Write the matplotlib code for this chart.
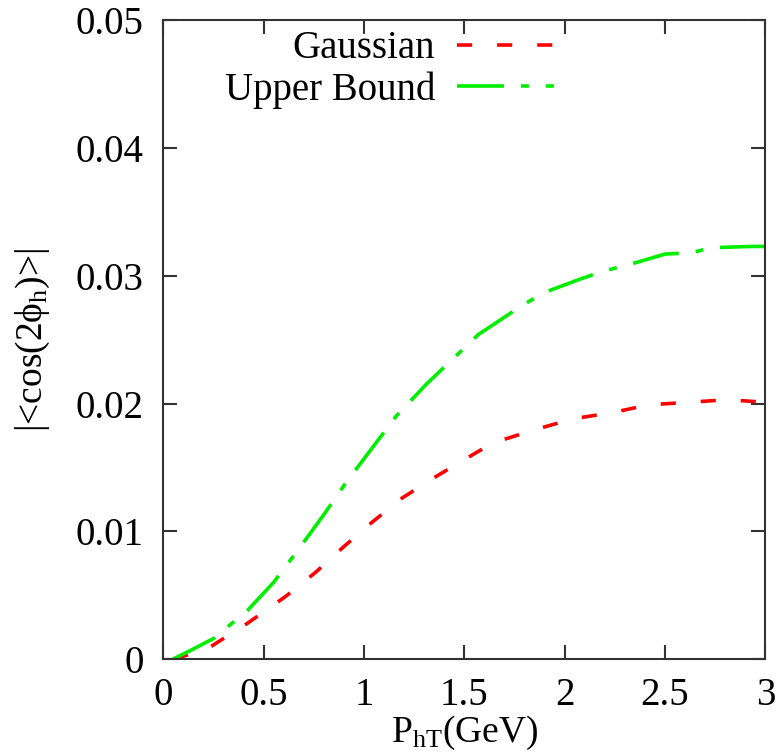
import matplotlib
matplotlib.use("Agg")
import matplotlib.pyplot as plt

plt.rcParams['font.family'] = ['Liberation Serif', 'DejaVu Serif']
plt.rcParams['mathtext.fontset'] = 'custom'
plt.rcParams['mathtext.rm'] = 'Liberation Serif'
plt.rcParams['mathtext.it'] = 'Liberation Serif:italic'

# curves
x_upper = [0.05, 0.14, 0.25, 0.42, 0.55, 0.67, 0.80, 0.91, 1.04, 1.16, 1.31, 1.45,
           1.57, 1.79, 1.90, 2.07, 2.18, 2.37, 2.50, 2.63, 2.73, 2.93, 3.0]
y_upper = [0.0, 0.0007, 0.0016, 0.0038, 0.0060, 0.0085, 0.0113, 0.0138, 0.0165, 0.0190,
           0.0215, 0.0236, 0.0254, 0.0277, 0.0287, 0.0297, 0.0303, 0.0311, 0.0317,
           0.0318, 0.0322, 0.0323, 0.0323]

x_gauss = [0.05, 0.14, 0.23, 0.42, 0.61, 0.76, 0.90, 1.04, 1.19, 1.35, 1.51, 1.64,
           1.84, 2.04, 2.24, 2.42, 2.62, 2.81, 3.0]
y_gauss = [0.0, 0.0004, 0.0009, 0.0028, 0.0049, 0.0068, 0.0088, 0.0107, 0.0126, 0.0142,
           0.0157, 0.0169, 0.0179, 0.0188, 0.0193, 0.0199, 0.0201, 0.0203, 0.0201]

xticks = [0, 0.5, 1, 1.5, 2, 2.5, 3]
xticklabels = ['0', '0.5', '1', '1.5', '2', '2.5', '3']
yticks = [0, 0.01, 0.02, 0.03, 0.04, 0.05]
yticklabels = ['0', '0.01', '0.02', '0.03', '0.04', '0.05']

fig = plt.figure(figsize=(7.81, 7.54), dpi=100)
ax = fig.add_axes([0.209, 0.126, 0.771, 0.847])

ax.plot(x_gauss, y_gauss, color='#ff0000', lw=2.6, dashes=(4.2, 6.9), label='Gaussian')
ax.plot(x_upper, y_upper, color='#00ee00', lw=2.6, dashes=(13, 4.7, 2.2, 4.7),
        label='Upper Bound')

ax.set_xlim(0, 3)
ax.set_ylim(0, 0.05)
ax.set_xticks(xticks)
ax.set_xticklabels(xticklabels)
ax.set_yticks(yticks)
ax.set_yticklabels(yticklabels)
ax.tick_params(direction='in', length=10, width=1.5, top=True, right=True,
               labelsize=28, colors='#333333', labelcolor='black')
ax.tick_params(axis='x', pad=13)
ax.tick_params(axis='y', pad=14)
for s in ax.spines.values():
    s.set_linewidth(1.5)
    s.set_color('#333333')

ax.set_xlabel(r'P$_{\rm hT}$(GeV)', fontsize=27, labelpad=0)
ax.set_ylabel('|<cos(2\u03d5$_{\\rm h}$)>|', fontsize=27, labelpad=17)

ax.legend(loc='upper right', bbox_to_anchor=(0.681, 1.015), frameon=False,
          markerfirst=False, fontsize=28, handlelength=2.5, handletextpad=0.55,
          labelspacing=0.1, borderaxespad=0.1)

fig.savefig('out.png', dpi=100)
